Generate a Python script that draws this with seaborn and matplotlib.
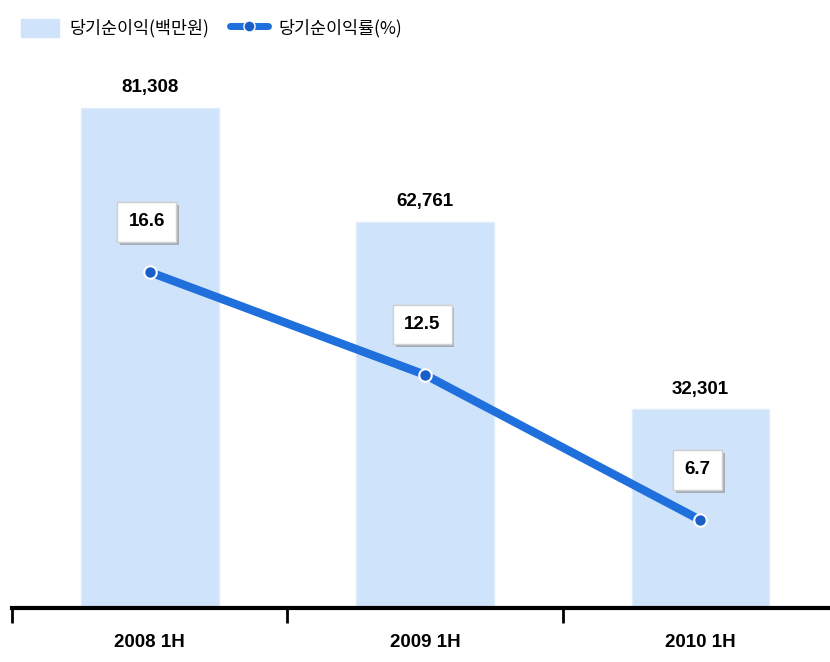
import matplotlib
matplotlib.use("Agg")
import matplotlib.pyplot as plt
import matplotlib.patheffects as pe
from matplotlib.lines import Line2D
from matplotlib.patches import Patch
import seaborn as sns

# data
periods = ["2008 1H", "2009 1H", "2010 1H"]
net_income = [81308, 62761, 32301]     # 당기순이익(백만원)
net_margin = [16.6, 12.5, 6.7]         # 당기순이익률(%)

sns.set_style("white")
plt.rcParams["font.family"] = ["Noto Sans CJK KR", "DejaVu Sans"]
plt.rcParams["text.color"] = "black"
num_font = "Liberation Sans"

BAR = "#cfe3fb"
LINE = "#1f6fdc"

fig = plt.figure(figsize=(8.3, 6.62), dpi=100)
ax = fig.add_axes([12 / 830, 54 / 662, 826 / 830, 548 / 662])

sns.barplot(x=periods, y=net_income, color=BAR, width=0.5, saturation=1,
            edgecolor="#e2edfb", linewidth=1, ax=ax)
ax.set_xlim(-0.5, 2.5)
ax.set_ylim(0, 89100)
ax.set_yticks([])
for s in ["top", "right", "left"]:
    ax.spines[s].set_visible(False)
ax.spines["bottom"].set_linewidth(3)
ax.spines["bottom"].set_color("black")

# boundary ticks between categories, labels centred under bars
ax.set_xticks([-0.5, 0.5, 1.5, 2.5])
ax.set_xticklabels([])
ax.tick_params(axis="x", which="major", bottom=True, length=11, width=2,
               direction="out", color="black")
ax.set_xticks([0, 1, 2], minor=True)
ax.set_xticklabels(periods, minor=True, fontsize=13.5, fontweight="bold",
                   family=num_font, color="black")
ax.tick_params(axis="x", which="minor", bottom=True, length=0, pad=19)
ax.set_xlabel("")

for i, v in enumerate(net_income):
    ax.text(i, v + 3300, f"{v:,}", ha="center", va="center", fontsize=13.5,
            fontweight="bold", family=num_font, color="black")

ax2 = ax.twinx()
sns.lineplot(x=[0, 1, 2], y=net_margin, color=LINE, linewidth=6, ax=ax2,
             marker="o", markersize=9, markerfacecolor="#1a5fc8",
             markeredgecolor="white", markeredgewidth=1.5)
ax2.set_ylim(3.19, 3.19 + 548 / 25.05)
ax2.set_yticks([])
for s in ["top", "right", "left", "bottom"]:
    ax2.spines[s].set_visible(False)

for i, v in enumerate(net_margin):
    t = ax2.text(i - 0.01, v + 2.0, f"{v}", ha="center", va="center", fontsize=13.5,
                 fontweight="bold", family=num_font, color="black",
                 bbox=dict(boxstyle="square,pad=0.6", facecolor="white",
                           edgecolor="#d0d0d0", linewidth=1))
    t.get_bbox_patch().set_path_effects(
        [pe.withSimplePatchShadow(offset=(2, -2), shadow_rgbFace="#888888", alpha=0.6),
         pe.Normal()])

handles = [
    Patch(facecolor=BAR, edgecolor=BAR),
    Line2D([0], [0], color=LINE, linewidth=5, marker="o", markersize=8,
           markerfacecolor="#1a5fc8", markeredgecolor="white"),
]
fig.legend(handles, ["당기순이익(백만원)", "당기순이익률(%)"], loc="upper left",
           bbox_to_anchor=(0.006, 0.995), ncol=2, frameon=False, fontsize=12.5,
           handlelength=2.2, handleheight=1.2, columnspacing=1.2, handletextpad=0.6)

fig.savefig("out.png", dpi=100)
